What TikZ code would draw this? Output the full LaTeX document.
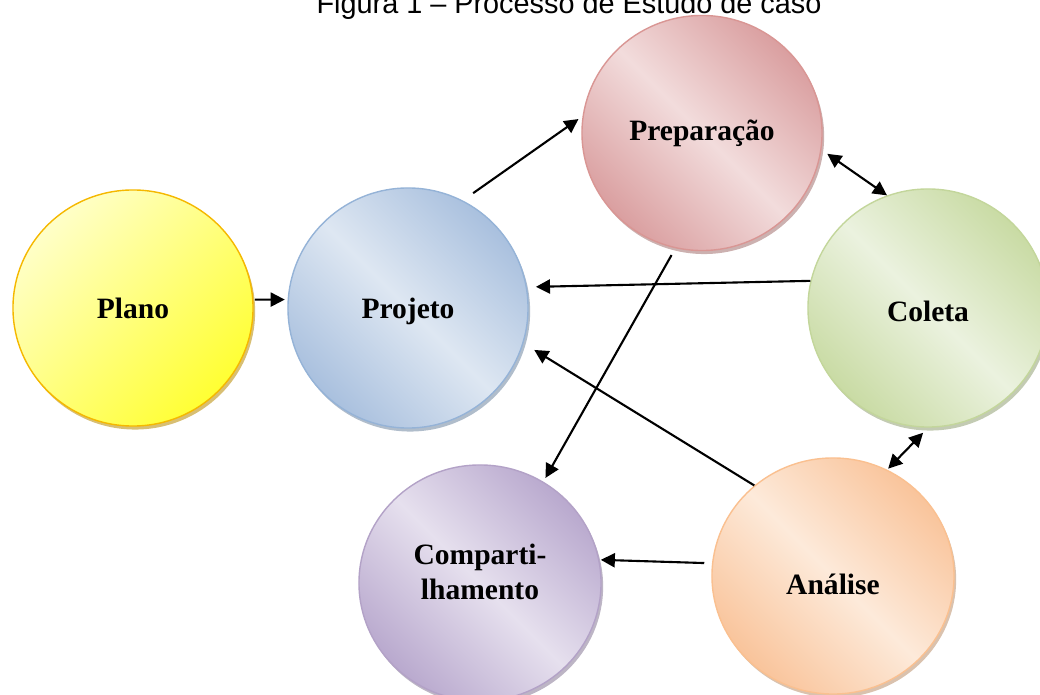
\documentclass[tikz,border=0pt]{standalone}
\usepackage{fontspec}
\setmainfont{Liberation Serif}
\newfontfamily\titlefont{Liberation Sans}
\usetikzlibrary{shapes.geometric, shadows, arrows.meta}

\definecolor{planoline}{HTML}{F5B800}
\definecolor{planolight}{HTML}{FFFFC8}
\definecolor{planodark}{HTML}{FFFF33}
\definecolor{projline}{HTML}{95B3D7}
\definecolor{projdark}{HTML}{A9C0DE}
\definecolor{projlight}{HTML}{DEE7F2}
\definecolor{prepline}{HTML}{D99694}
\definecolor{prepdark}{HTML}{DA9FA0}
\definecolor{preplight}{HTML}{F2DCDC}
\definecolor{colline}{HTML}{C3D69B}
\definecolor{coldark}{HTML}{C9DBA4}
\definecolor{collight}{HTML}{EBF2DF}
\definecolor{compline}{HTML}{B3A2C7}
\definecolor{compdark}{HTML}{B9A9CE}
\definecolor{complight}{HTML}{E6E0EE}
\definecolor{analine}{HTML}{FAC090}
\definecolor{anadark}{HTML}{F9C49B}
\definecolor{analight}{HTML}{FDEADA}
\colorlet{cdark}{gray}
\colorlet{clight}{white}
\pgfdeclarehorizontalshading[cdark,clight]{mirror}{100bp}{color(0bp)=(cdark); color(25bp)=(cdark); color(50bp)=(clight); color(75bp)=(cdark); color(100bp)=(cdark)}

\begin{document}
\begin{tikzpicture}[x=0.025cm, y=-0.025cm]
      \tikzset{bubble/.style={ellipse,
          line width=1pt,
          inner sep=0pt,
          align=center,
          font=\bfseries\fontsize{21}{25}\selectfont,
          drop shadow={shadow xshift=1.5pt, shadow yshift=-2.5pt, fill=#1!75!black, opacity=0.55},
          draw=#1},
        mirror fill/.style 2 args={/utils/exec={\colorlet{cdark}{#1}\colorlet{clight}{#2}},
          shading=mirror, shading angle=45},
        flow/.style={-{Triangle[length=10pt,width=10pt]}, line width=1.5pt},
        twoway/.style={{Triangle[length=10pt,width=10pt]}-{Triangle[length=10pt,width=10pt]}, line width=1.5pt}
      }
      \useasboundingbox (0,0) rectangle (1040,695);
      \node [font=\titlefont\fontsize{20.5}{24}\selectfont, anchor=base] (titulo) at (569,14) {Figura 1 – Processo de Estudo de caso};
      \node [bubble=planoline, top color=planolight, bottom color=planodark, shading angle=45,
        minimum width=6cm, minimum height=5.9cm] (plano) at (133,308) {Plano};
      \node [bubble=projline, mirror fill={projdark}{projlight}, text height=15.3pt, text depth=0pt,
        minimum width=6cm, minimum height=6cm] (projeto) at (408,308) {Projeto};
      \node [bubble=prepline, mirror fill={prepdark}{preplight},
        minimum width=6cm, minimum height=5.875cm] (prep) at (702,133) {Preparação};
      \node [bubble=colline, mirror fill={coldark}{collight}, text height=20pt,
        minimum width=6cm, minimum height=5.95cm] (coleta) at (928,308) {Coleta};
      \node [bubble=compline, mirror fill={compdark}{complight}, text depth=16pt,
        minimum width=6.05cm, minimum height=5.9cm] (comp) at (480,583) {Comparti-\\lhamento};
      \node [bubble=analine, mirror fill={anadark}{analight}, text height=26pt, text depth=0pt,
        minimum width=6.05cm, minimum height=5.9cm] (analise) at (833,576) {Análise};
      % setas
      \draw [flow, shorten <=1pt, shorten >=2pt] (plano.4) -- (projeto.176);
      \draw [flow, shorten <=9pt, shorten >=3.5pt] (projeto.63) -- (prep.172);
      \draw [flow, shorten >=6.4pt] (coleta.167) -- (projeto.10);
      \draw [flow, shorten >=9pt] (analise.131) -- (projeto.-17);
      \draw [flow, shorten <=5.5pt, shorten >=3pt] (prep.257) -- (comp.58);
      \draw [flow, shorten <=5.5pt, shorten >=1pt] (analise.174) -- (comp.11);
      \draw [twoway, shorten <=5pt] (prep.-8) -- (coleta.110);
      \draw [twoway, shorten <=5pt, shorten >=1pt] (coleta.270) -- (analise.63);
    \end{tikzpicture}
\end{document}
